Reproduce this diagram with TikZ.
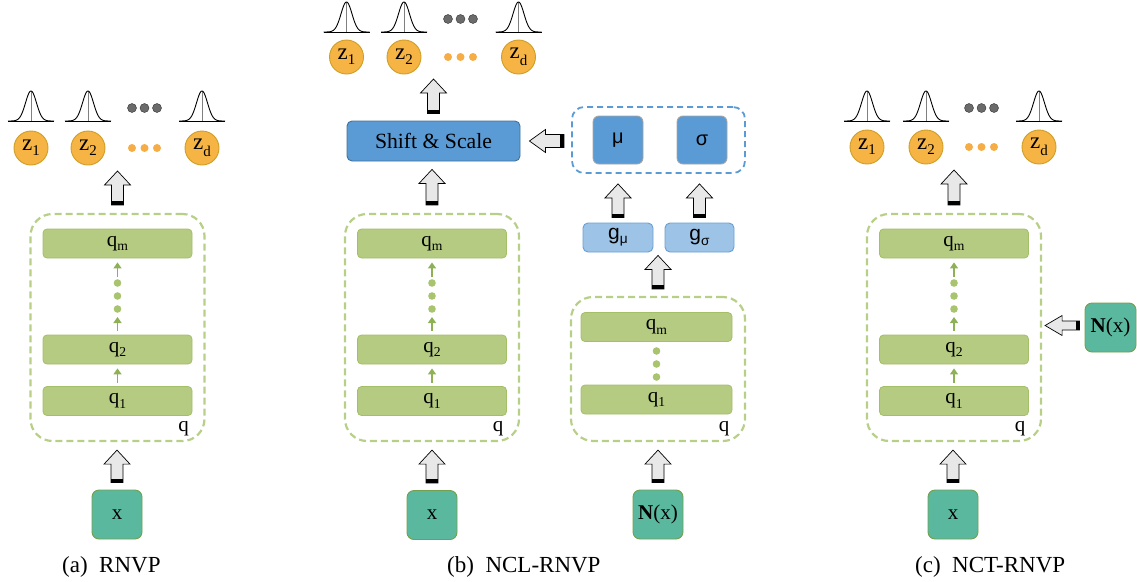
\documentclass[tikz,border=0pt]{standalone}
\usepackage{fontspec}
\usepackage{graphicx}
\setmainfont{Liberation Serif}
\newfontfamily\sff{Liberation Sans}
\usetikzlibrary{calc,arrows.meta}
\definecolor{qfill}{HTML}{B5CB82}
\definecolor{qdraw}{HTML}{A3BF68}
\definecolor{dgreen}{HTML}{B8CF88}
\definecolor{sgreen}{HTML}{8FB155}
\definecolor{gdotc}{HTML}{A9C46E}
\definecolor{tfill}{HTML}{5AB89F}
\definecolor{tdraw}{HTML}{72A04C}
\definecolor{ofill}{HTML}{F5B443}
\definecolor{odraw}{HTML}{CF9E25}
\definecolor{odot}{HTML}{F6AD45}
\definecolor{gdark}{HTML}{6B6B6B}
\definecolor{bfill}{HTML}{5B9BD5}
\definecolor{bdraw}{HTML}{41719C}
\definecolor{mudraw}{HTML}{A6A6A6}
\definecolor{lbfill}{HTML}{9DC3E6}
\definecolor{lbdraw}{HTML}{6A9FD2}
\definecolor{afill}{HTML}{E8E8E8}

\newcommand\lsub[2][0.2em]{\raisebox{-#1}{\scalebox{0.65}{#2}}}

% vertical hollow arrow: tail, tip, half shaft, half head, head length
\newcommand\uparr[5]{%
 \path[harrow] let \p1=#1, \p2=#2 in (\x1-#3pt,\y1) -- (\x1-#3pt,\y2-#5pt) -- (\x1-#4pt,\y2-#5pt) -- (\x1,\y2) -- (\x1+#4pt,\y2-#5pt) -- (\x1+#3pt,\y2-#5pt) -- (\x1+#3pt,\y1) -- cycle;
 \fill let \p1=#1 in (\x1-#3pt,\y1) rectangle (\x1+#3pt,\y1+4pt);
}
% leftward hollow arrow: tail (right), tip (left), half shaft, half head, head length
\newcommand\leftarr[5]{%
 \path[harrow] let \p1=#1, \p2=#2 in (\x1,\y1+#3pt) -- (\x2+#5pt,\y1+#3pt) -- (\x2+#5pt,\y1+#4pt) -- (\x2,\y1) -- (\x2+#5pt,\y1-#4pt) -- (\x2+#5pt,\y1-#3pt) -- (\x1,\y1-#3pt) -- cycle;
 \fill let \p1=#1 in (\x1,\y1+#3pt) rectangle (\x1-4pt,\y1-#3pt);
}
\newcommand\gauss[2]{%
 \draw[gray, line width=0.8pt] (#1,#2+1) -- (#1,#2-30);
 \draw[line width=0.9pt] (#1-23,#2) -- (#1+23,#2);
 \draw[line width=0.9pt] plot[domain=-23:23,samples=70,smooth] ({#1+\x},{#2-30*exp(-(\x*\x)/60)});
}
% prefix, x1, x2, xd, gaussian baseline y, circle y, first dot x
\newcommand\zrow[7]{%
 \gauss{#2}{#5}\gauss{#3}{#5}\gauss{#4}{#5}
 \foreach \k in {0,1,2} {\fill[gdark, draw=black!80, line width=0.4pt] (#7+12.5*\k,#5-13) circle (4.5pt);}
 \node[zc] (#1z1) at (#2,#6) {z\lsub{1}};
 \node[zc] (#1z2) at (#3,#6) {z\lsub{2}};
 \node[zc] (#1zd) at (#4,#6) {z\lsub[0.3em]{d}};
 \foreach \k in {0,1,2} {\fill[odot] (#7+12.5*\k,#6) circle (4pt);}
}
% prefix, center x
\newcommand\qstack[2]{%
 \node[dbox, minimum width=174pt, minimum height=227pt] (#1box) at (#2,327.5) {};
 \node[qbox] (#1qm) at (#2,243.5) {q\lsub{m}};
 \node[qbox] (#1q2) at (#2,349.5) {q\lsub{2}};
 \node[qbox] (#1q1) at (#2,401) {q\lsub{1}};
 \node[gdotn] (#1d1) at (#2,309) {};
 \node[gdotn] (#1d2) at (#2,296) {};
 \node[gdotn] (#1d3) at (#2,283) {};
 \draw[sarrow] ($(#1q1.north)+(0,-3)$) -- ($(#1q2.south)+(0,4)$);
 \draw[sarrow] ($(#1q2.north)+(0,-4)$) -- ($(#1d1.south)+(0,4)$);
 \draw[sarrow] ($(#1d3.north)+(0,-2)$) -- ($(#1qm.south)+(0,4)$);
 \node[qlabel, anchor=base] (#1ql) at ($(#1box.south east)+(-22,-11)$) {q};
}

\begin{document}
\begin{tikzpicture}[x=1pt,y=-1pt,
 qbox/.style={draw=qdraw, fill=qfill, rounded corners=4pt, line width=0.8pt, minimum width=149pt, minimum height=29pt, inner sep=0pt, font=\fontsize{21}{21}\selectfont},
 dbox/.style={draw=dgreen, dash pattern=on 7pt off 4pt, line width=2.2pt, rounded corners=22pt, inner sep=0pt},
 bdash/.style={draw=bfill, dash pattern=on 6pt off 4pt, line width=1.8pt, rounded corners=12pt, inner sep=0pt},
 sarrow/.style={draw=sgreen, line width=1.8pt, -{Triangle[length=6pt,width=8pt]}},
 gdotn/.style={circle, fill=gdotc, minimum size=7.6pt, inner sep=0pt},
 qlabel/.style={font=\fontsize{21}{21}\selectfont, inner sep=0pt},
 zc/.style={circle, draw=odraw, fill=ofill, minimum size=34pt, inner sep=0pt, line width=0.9pt, font=\fontsize{23}{23}\selectfont},
 tbox/.style={draw=tdraw, fill=tfill, rounded corners=7pt, minimum width=50pt, minimum height=49pt, inner sep=0pt, line width=0.9pt, font=\fontsize{21}{21}\selectfont},
 shiftbox/.style={draw=bdraw, fill=bfill, rounded corners=5pt, minimum width=173pt, minimum height=40pt, inner sep=0pt, line width=0.9pt, font=\fontsize{21.7}{22}\selectfont},
 mubx/.style={draw=mudraw, fill=bfill, rounded corners=6pt, minimum width=50pt, minimum height=48pt, inner sep=0pt, line width=0.9pt, font=\sff\fontsize{20}{20}\selectfont},
 gbox/.style={draw=lbdraw, fill=lbfill, rounded corners=5pt, minimum height=29pt, inner sep=0pt, line width=0.9pt, font=\sff\fontsize{21}{21}\selectfont},
 harrow/.style={draw=black, fill=afill, line width=0.7pt},
 captext/.style={font=\fontsize{23}{23}\selectfont, inner sep=0pt}
]
\useasboundingbox (0,0) rectangle (1137,581);

% ---------- (a) RNVP ----------
\zrow{a}{31}{88}{202}{121}{148}{132}
\qstack{a}{117.5}
\node[tbox] (ax) at (117,514.5) {x};
\coordinate (atop) at (117,165);
\uparr{($(ax.north)+(0,-7)$)}{($(abox.south)+(0,8)$)}{6}{13}{14}
\uparr{($(abox.north)+(0,-8)$)}{($(atop)+(0,6)$)}{6}{13}{14}
\node[captext, anchor=base west] (capa) at (62,572) {(a)\ \ RNVP};

% ---------- (b) NCL-RNVP ----------
\zrow{b}{346.5}{404}{518.5}{32}{57}{448}
\node[shiftbox] (shift) at (433.5,141) {Shift \& Scale};
\qstack{b}{432}
\node[tbox] (bx) at (432,515) {x};
\coordinate (btop) at (432,74);
\uparr{($(bx.north)+(0,-7)$)}{($(bbox.south)+(0,8)$)}{6}{13}{14}
\uparr{($(bbox.north)+(0,-8)$)}{($(shift.south)+(0,8)$)}{6}{13}{14}
\uparr{($(shift.north)+(0,-7)$)}{($(btop)+(0,5)$)}{6}{13}{14}

\node[bdash, minimum width=173pt, minimum height=66pt] (mubox) at (658.5,140) {};
\node[mubx] (mu) at (618,140) {μ};
\node[mubx] (sig) at (702,140) {σ};
\node[gbox, minimum width=70pt] (gmu) at (618,237.5) {g\lsub{μ}};
\node[gbox, minimum width=69pt] (gsig) at (699.5,237.5) {g\lsub{σ}};
\node[dbox, minimum width=174pt, minimum height=144pt] (rbox) at (658,369) {};
\node[qbox, minimum width=151pt] (rqm) at (656.5,327) {q\lsub{m}};
\node[qbox, minimum width=151pt] (rq1) at (656.5,399.5) {q\lsub{1}};
\node[gdotn] (rd1) at (656.5,351) {};
\node[gdotn] (rd2) at (656.5,364) {};
\node[gdotn] (rd3) at (656.5,377) {};
\node[qlabel, anchor=base] (rql) at ($(rbox.south east)+(-22,-11)$) {q};
\node[tbox] (bn) at (658,514.5) {\textbf{N}(x)};
\coordinate (gmid) at ($(gmu.south east)!0.5!(gsig.south west)$);
\uparr{($(bn.north)+(0,-7)$)}{($(rbox.south)+(0,8)$)}{6}{13}{14}
\uparr{($(rbox.north)+(0,-7)$)}{($(gmid)+(0,3)$)}{6}{13}{14}
\uparr{($(gmu.north)+(0,-5)$)}{($(mubox.south)+(0,10)$)}{6}{13}{14}
\uparr{($(gsig.north)+(0,-5)$)}{($(mubox.south)+(0,10)$)}{6}{13}{14}
\leftarr{($(mubox.west)+(-7,1)$)}{($(shift.east)+(9,0)$)}{6.5}{11.5}{16}
\node[captext, anchor=base west] (capb) at (447,572) {(b)\ \ NCL-RNVP};

% ---------- (c) NCT-RNVP ----------
\zrow{c}{867}{926}{1039}{121}{147}{969}
\qstack{c}{954}
\node[tbox] (cx) at (953,514.5) {x};
\coordinate (ctop) at (953,164);
\uparr{($(cx.north)+(0,-7)$)}{($(cbox.south)+(0,8)$)}{6}{13}{14}
\uparr{($(cbox.north)+(0,-8)$)}{($(ctop)+(0,6)$)}{6}{13}{14}
\node[tbox, minimum width=51pt] (cn) at (1110.5,327.5) {\textbf{N}(x)};
\leftarr{($(cn.west)+(-5,-2)$)}{($(cbox.east)+(3,0)$)}{4.5}{10}{17}
\node[captext, anchor=base west] (capc) at (915,572) {(c)\ \ NCT-RNVP};
\end{tikzpicture}
\end{document}
